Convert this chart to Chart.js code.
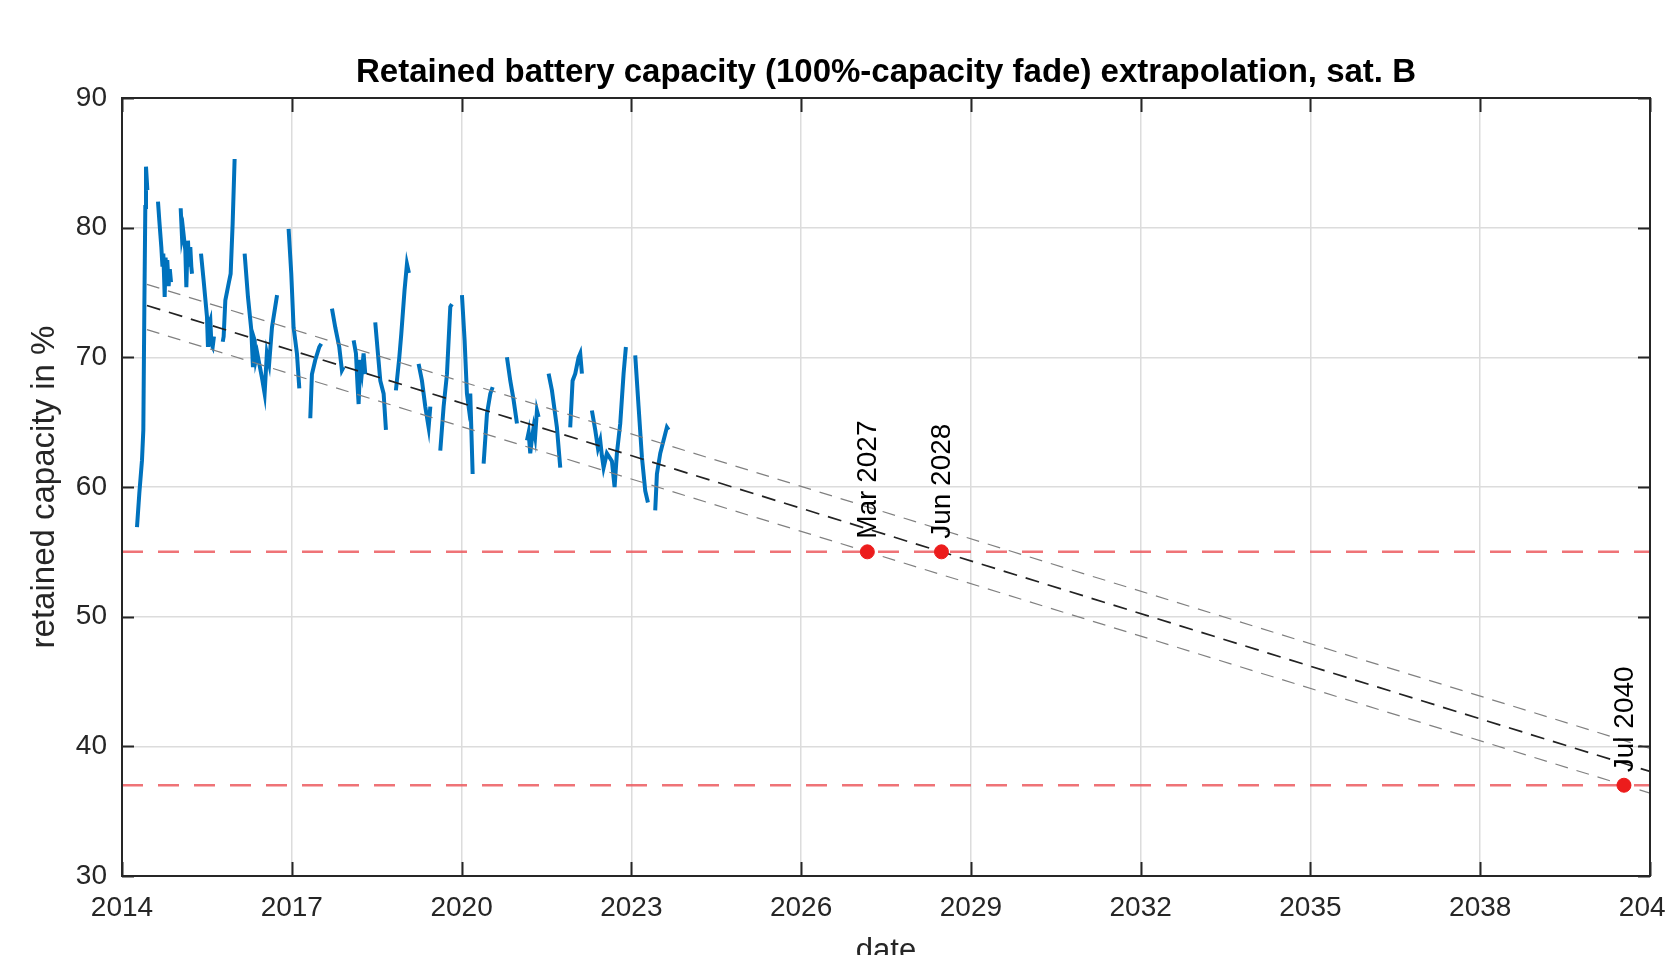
<!DOCTYPE html>
<html>
<head>
<meta charset="utf-8">
<script src="https://cdn.jsdelivr.net/npm/chart.js@4.4.1/dist/chart.umd.min.js"></script>
<style>
  html, body { margin: 0; padding: 0; background: #fff; overflow: hidden; }
  #wrap { width: 1700px; height: 990px; }
</style>
</head>
<body>
<div id="wrap"><canvas id="capacity_chart"></canvas></div>
<script>
// measured retained capacity of sat. B (null = gap in the record)
const years = [
    2014.265, 2014.306, 2014.353, 2014.377, 2014.395, 2014.412, 2014.424, 2014.448, null,
    2014.636, 2014.660, 2014.695, 2014.715, 2014.730, 2014.745, 2014.754, 2014.770, 2014.783, 2014.800, 2014.824, 2014.845, 2014.866, null,
    2015.037, 2015.060, 2015.080, 2015.119, 2015.137, 2015.150, 2015.166, 2015.185, 2015.207, 2015.225, 2015.237, null,
    2015.396, 2015.443, 2015.502, 2015.519, 2015.535, 2015.561, 2015.580, 2015.602, 2015.625, null,
    2015.780, 2015.796, 2015.826, 2015.885, 2015.920, 2015.955, 2015.990, null,
    2016.167, 2016.226, 2016.285, 2016.314, 2016.330, 2016.344, 2016.365, 2016.391, 2016.470, 2016.520, 2016.560, 2016.600, 2016.650, 2016.740, null,
    2016.944, 2016.991, 2017.032, 2017.062, 2017.091, 2017.133, null,
    2017.327, 2017.356, 2017.415, 2017.486, 2017.521, null,
    2017.710, 2017.769, 2017.839, 2017.886, 2017.916, null,
    2018.093, 2018.134, 2018.160, 2018.181, 2018.210, 2018.240, 2018.269, 2018.299, null,
    2018.475, 2018.522, 2018.564, 2018.623, 2018.664, null,
    2018.840, 2018.900, 2018.935, 2018.993, 2019.035, 2019.070, null,
    2019.241, 2019.300, 2019.359, 2019.418, 2019.448, null,
    2019.624, 2019.683, 2019.742, 2019.801, 2019.830, null,
    2020.007, 2020.054, 2020.095, 2020.125, 2020.154, 2020.196, null,
    2020.390, 2020.449, 2020.508, 2020.550, null,
    2020.802, 2020.861, 2020.920, 2020.979, null,
    2021.156, 2021.185, 2021.214, 2021.245, 2021.273, 2021.300, 2021.332, 2021.361, null,
    2021.538, 2021.597, 2021.685, 2021.744, null,
    2021.920, 2021.962, 2022.009, 2022.068, 2022.097, 2022.127, null,
    2022.303, 2022.362, 2022.410, 2022.450, 2022.480, 2022.510, 2022.568, 2022.657, 2022.704, 2022.745, 2022.804, 2022.863, 2022.904, null,
    2023.069, 2023.128, 2023.187, 2023.246, 2023.293, null,
    2023.422, 2023.452, 2023.511, 2023.570, 2023.628, 2023.658
]
const capacity = [
    56.9, 59.5, 62.05, 64.4, 73.9, 81.6, 84.7, 82.9, null,
    82.0, 80.5, 78.5, 77.0, 78.0, 76.0, 74.65, 77.7, 76.5, 77.5, 75.5, 76.8, 75.8, null,
    81.5, 79.3, 79.8, 78.25, 75.4, 77.5, 79.0, 77.0, 78.5, 77.0, 76.45, null,
    78.0, 75.9, 73.1, 70.8, 72.5, 72.85, 71.0, 70.8, 71.6, null,
    71.2, 71.6, 74.4, 75.7, 76.45, 80.3, 85.3, null,
    78.0, 74.65, 72.1, 69.25, 71.5, 71.3, 69.8, 70.3, 68.5, 67.2, 70.3, 69.5, 72.3, 74.8, null,
    79.9, 76.45, 72.3, 71.3, 70.3, 67.6, null,
    65.3, 68.7, 69.8, 70.8, 71.05, null,
    73.75, 72.3, 70.8, 69.0, 69.25, null,
    71.3, 70.3, 68.0, 66.4, 69.8, 68.9, 70.3, 68.7, null,
    72.7, 70.3, 68.2, 67.2, 64.4, null,
    67.45, 70.0, 71.8, 75.2, 77.2, 76.5, null,
    69.5, 68.2, 66.2, 64.6, 66.2, null,
    62.8, 66.2, 68.7, 73.9, 74.1, null,
    74.8, 71.3, 67.2, 66.2, 67.2, 61.0, null,
    61.8, 65.65, 67.2, 67.7, null,
    70.0, 68.2, 66.7, 64.9, null,
    63.6, 64.2, 62.6, 63.8, 64.6, 63.9, 65.9, 65.4, null,
    68.74, 67.45, 64.6, 61.5, null,
    64.6, 68.2, 68.74, 70.0, 70.3, 68.74, null,
    65.9, 64.4, 63.0, 63.6, 62.4, 61.5, 62.6, 62.0, 60.0, 62.6, 64.9, 68.74, 70.8, null,
    70.15, 66.2, 62.3, 59.7, 58.8, null,
    58.2, 61.0, 62.6, 63.6, 64.6, 64.4
]

// linear fit and its bounds, extrapolated
const fitYears = [2014.44, 2041]
const fitCenter = [74.0, 38.06]
const fitUpper = [75.63, 39.83]
const fitLower = [72.14, 36.39]

// capacity limits
const limitYears = [2014, 2041]
const limitLow = [55, 55]
const limitEnd = [37, 37]

// where the fit reaches the limits
const crossYears = [2027.17, 2028.48, 2040.54]
const crossValues = [55, 55, 37]
const crossLabels = ['Mar 2027', 'Jun 2028', 'Jul 2040']

const xTicks = [2014, 2017, 2020, 2023, 2026, 2029, 2032, 2035, 2038, 2041]
const yTicks = [30, 40, 50, 60, 70, 80, 90]

const FONT = '"Liberation Sans", Arial, Helvetica, sans-serif'
Chart.defaults.font.family = FONT

function points(xs, ys) {
    return xs.map((x, i) => ({x: x, y: ys[i]}))
}

// matlab style box with inward ticks, and the date labels
const frame_plugin = {
    id: 'frame',
    afterDatasetsDraw(chart) {
        const ctx = chart.ctx
        const a = chart.chartArea
        const xs = chart.scales.x
        const ys = chart.scales.y
        ctx.save()

        ctx.fillStyle = '#000'
        ctx.font = '28px ' + FONT
        ctx.textAlign = 'left'
        ctx.textBaseline = 'middle'
        for (let i = 0; i < crossLabels.length; i++) {
            const px = xs.getPixelForValue(crossYears[i])
            const py = ys.getPixelForValue(crossValues[i])
            ctx.save()
            ctx.translate(px + 1, py - 13)
            ctx.rotate(-Math.PI / 2)
            ctx.fillText(crossLabels[i], 0, 0)
            ctx.restore()
        }

        ctx.strokeStyle = '#262626'
        ctx.lineWidth = 2
        ctx.strokeRect(a.left, a.top, a.right - a.left, a.bottom - a.top)
        ctx.beginPath()
        for (const t of xTicks) {
            const px = Math.round(xs.getPixelForValue(t)) + 0.5
            ctx.moveTo(px, a.bottom); ctx.lineTo(px, a.bottom - 14)
            ctx.moveTo(px, a.top); ctx.lineTo(px, a.top + 14)
        }
        for (const t of yTicks) {
            const py = Math.round(ys.getPixelForValue(t)) + 0.5
            ctx.moveTo(a.left, py); ctx.lineTo(a.left + 12, py)
            ctx.moveTo(a.right, py); ctx.lineTo(a.right - 12, py)
        }
        ctx.stroke()
        ctx.restore()
    }
}

const frame = document.getElementById('capacity_chart')

const capacity_chart = new Chart(frame, {
    type: 'line',
    data: {
        datasets: [
            {
                data: points(crossYears, crossValues),
                showLine: false,
                pointRadius: 7,
                pointBackgroundColor: '#ec1c1c',
                pointBorderColor: '#ec1c1c',
                order: 0
            },
            {
                data: points(fitYears, fitCenter),
                borderColor: '#222',
                borderWidth: 1.7,
                borderDash: [14, 9],
                pointRadius: 0,
                order: 1
            },
            {
                data: points(fitYears, fitUpper),
                borderColor: '#808080',
                borderWidth: 1.2,
                borderDash: [13, 9],
                pointRadius: 0,
                order: 2
            },
            {
                data: points(fitYears, fitLower),
                borderColor: '#808080',
                borderWidth: 1.2,
                borderDash: [13, 9],
                pointRadius: 0,
                order: 3
            },
            {
                data: points(limitYears, limitLow),
                borderColor: 'rgba(236, 90, 95, 0.85)',
                borderWidth: 2.5,
                borderDash: [21, 15],
                pointRadius: 0,
                order: 4
            },
            {
                data: points(limitYears, limitEnd),
                borderColor: 'rgba(236, 90, 95, 0.85)',
                borderWidth: 2.5,
                borderDash: [21, 15],
                pointRadius: 0,
                order: 5
            },
            {
                data: points(years, capacity),
                borderColor: '#0072BD',
                borderWidth: 4,
                pointRadius: 0,
                spanGaps: false,
                order: 6
            }
        ]
    },
    options: {
        responsive: true,
        maintainAspectRatio: false,
        animation: false,
        layout: {padding: {left: 0, right: 50, top: 0, bottom: 0}},
        plugins: {
            legend: {display: false},
            tooltip: {enabled: false},
            title: {
                display: true,
                fullSize: false,
                text: 'Retained battery capacity (100%-capacity fade) extrapolation, sat. B',
                color: '#000',
                font: {size: 33, weight: 'bold'},
                padding: {top: 53.2, bottom: 5.2}
            }
        },
        scales: {
            x: {
                type: 'linear',
                min: 2014,
                max: 2041,
                afterBuildTicks: (s) => { s.ticks = xTicks.map(v => ({value: v})) },
                afterFit: (s) => { s.height = 114 },
                grid: {color: '#dcdcdc', lineWidth: 1.5, drawTicks: false},
                border: {display: false},
                ticks: {
                    padding: 15,
                    color: '#262626',
                    font: {size: 28},
                    maxRotation: 0,
                    autoSkip: false,
                    callback: (v) => String(v)
                },
                title: {
                    display: true,
                    text: 'date',
                    color: '#262626',
                    font: {size: 31},
                    padding: {top: 0, bottom: 20}
                }
            },
            y: {
                type: 'linear',
                min: 30,
                max: 90,
                afterBuildTicks: (s) => { s.ticks = yTicks.map(v => ({value: v})) },
                afterFit: (s) => { s.width = 122 },
                grid: {color: '#dcdcdc', lineWidth: 1.5, drawTicks: false},
                border: {display: false},
                ticks: {
                    padding: 15,
                    color: '#262626',
                    font: {size: 28},
                    callback: (v) => String(v)
                },
                title: {
                    display: true,
                    text: 'retained capacity in %',
                    color: '#262626',
                    font: {size: 33},
                    padding: {top: 25, bottom: 0}
                }
            }
        }
    },
    plugins: [frame_plugin]
})
</script>
</body>
</html>
